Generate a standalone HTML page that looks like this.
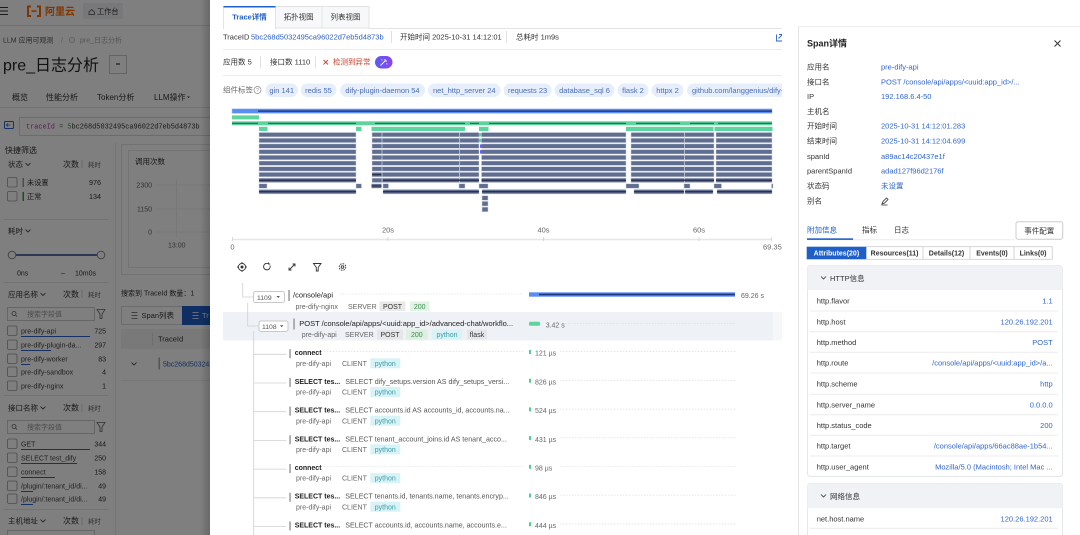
<!DOCTYPE html>
<html><head><meta charset="utf-8">
<style>
html,body{margin:0;padding:0;background:#fff;}
body{width:1080px;height:535px;overflow:hidden;}
svg{display:block;}
text{font-family:"Liberation Sans","Noto Sans CJK SC",sans-serif;}
.m{font-family:"Liberation Mono","Noto Sans CJK SC",monospace;}
</style></head><body>
<svg width="1080" height="535" viewBox="0 0 1080 535" xmlns="http://www.w3.org/2000/svg" xmlns:xlink="http://www.w3.org/1999/xlink">
<defs>
<clipPath id="mid"><rect x="210" y="0" width="572" height="535"/></clipPath>
<clipPath id="left"><rect x="0" y="0" width="210" height="535"/></clipPath>
<linearGradient id="sh" x1="0" x2="1" y1="0" y2="0"><stop offset="0" stop-color="#000" stop-opacity="0"/><stop offset="1" stop-color="#000" stop-opacity="0.18"/></linearGradient>
<linearGradient id="pp" x1="0" x2="1" y1="0" y2="0"><stop offset="0" stop-color="#5b5cf0"/><stop offset="1" stop-color="#8a45e8"/></linearGradient>
<g id="sr" fill="#5f6d90" stroke="#cdd2dc" stroke-width="0.5">
<rect x="259" y="0" width="97" height="4.4"/>
<rect x="372" y="0" width="107" height="4.4"/>
<rect x="481.5" y="0" width="144.5" height="4.4"/>
<rect x="631" y="0" width="83" height="4.4"/>
<rect x="716" y="0" width="56" height="4.4"/>
</g>
</defs>

<!-- ================= LEFT (dimmed page) ================= -->
<g clip-path="url(#left)">
<rect x="0" y="0" width="210" height="535" fill="#fff"/>
<line x1="0" y1="25.5" x2="210" y2="25.5" stroke="#e3e3e3"/>
<path d="M0 7.5h8M0 11h8M0 14.5h8" stroke="#333" stroke-width="1.1"/>
<path d="M31 6.5h-3v9.5h3M37 6.5h3v9.5h-3" stroke="#ff6a00" stroke-width="2" fill="none"/>
<rect x="31.5" y="10.3" width="5" height="1.6" fill="#ff6a00"/>
<text x="45" y="15" font-size="10" font-weight="bold" fill="#ff6a00">阿里云</text>
<rect x="83" y="3" width="40" height="16" rx="2" fill="#eef0f3"/>
<path d="M89 12l2.7-2.5 2.7 2.5v2.5h-5.4z" fill="none" stroke="#444" stroke-width="0.8"/>
<text x="97" y="14" font-size="7.2" fill="#333">工作台</text>
<text x="3" y="42.5" font-size="7" fill="#555">LLM 应用可观测</text>
<text x="61" y="42.5" font-size="7" fill="#bbb">/</text>
<circle cx="72" cy="40" r="2.6" fill="none" stroke="#aaa" stroke-width="0.7"/>
<text x="80" y="42.5" font-size="7" fill="#aaa">pre_日志分析</text>
<text x="3" y="70.5" font-size="16" fill="#222">pre_日志分析</text>
<rect x="109.5" y="55.5" width="17" height="18" fill="#fff" stroke="#c8c8c8"/>
<path d="M116 64h4" stroke="#333" stroke-width="1.2"/>
<text x="12" y="100" font-size="8" fill="#333">概览</text>
<text x="46" y="100" font-size="8" fill="#333">性能分析</text>
<text x="97" y="100" font-size="8" fill="#333">Token分析</text>
<text x="154" y="100" font-size="8" fill="#333">LLM操作</text>
<path d="M187 96.5l1.5 1.5 1.5-1.5z" fill="#333"/>
<line x1="0" y1="107.5" x2="210" y2="107.5" stroke="#e5e5e5"/>
<rect x="4.5" y="121.5" width="9" height="7" rx="1" fill="none" stroke="#2b63d0" stroke-width="1"/>
<path d="M6.5 125h4M8 123.5l-1.5 1.5 1.5 1.5" stroke="#2b63d0" stroke-width="0.8" fill="none"/>
<rect x="19.5" y="117.5" width="200" height="18" fill="#fff" stroke="#d9d9d9"/>
<text x="26" y="128.6" font-size="6.9" class="m"><tspan fill="#b23aa6">traceId</tspan><tspan fill="#666"> = </tspan><tspan fill="#2a9d4a">5</tspan><tspan fill="#333">bc268d5032495ca96022d7eb5d4873b</tspan></text>
<text x="5" y="153" font-size="8" fill="#333">快捷筛选</text>

<g font-size="7.5" fill="#333">
<text x="8" y="167">状态</text>
<text x="63" y="167" font-size="8">次数</text>
<text x="88" y="167" font-size="6.5" fill="#666">耗时</text>
<text x="8" y="233.5">耗时</text>
<text x="8" y="297">应用名称</text>
<text x="63" y="297" font-size="8">次数</text>
<text x="88" y="297" font-size="6.5" fill="#666">耗时</text>
<text x="8" y="410.5">接口名称</text>
<text x="63" y="410.5" font-size="8">次数</text>
<text x="88" y="410.5" font-size="6.5" fill="#666">耗时</text>
<text x="8" y="523.5">主机地址</text>
<text x="63" y="523.5" font-size="8">次数</text>
<text x="88" y="523.5" font-size="6.5" fill="#666">耗时</text>
</g>
<g stroke="#ccc" stroke-width="0.8"><path d="M82 160v8M82 290v8M82 404v8M82 517v8"/></g>
<g stroke="#333" stroke-width="0.8" fill="none">
<path d="M25.5 163l2.5 2.5 2.5-2.5"/><path d="M25.5 229.5l2.5 2.5 2.5-2.5"/>
<path d="M40.5 293l2.5 2.5 2.5-2.5"/><path d="M40.5 406.5l2.5 2.5 2.5-2.5"/><path d="M40.5 519.5l2.5 2.5 2.5-2.5"/>
</g>
<g fill="#fff" stroke="#999" stroke-width="0.8">
<rect x="7.5" y="177.5" width="9.5" height="9.5" rx="1.5"/>
<rect x="7.5" y="191.5" width="9.5" height="9.5" rx="1.5"/>
</g>
<rect x="22.5" y="178" width="1.5" height="9" fill="#999"/>
<rect x="22.5" y="192" width="1.5" height="9" fill="#2aa052"/>
<g font-size="7.2" fill="#333">
<text x="27" y="184.8">未设置</text><text x="101" y="184.8" text-anchor="end">976</text>
<text x="27" y="198.8">正常</text><text x="101" y="198.8" text-anchor="end">134</text>
</g>
<g stroke="#e6e6e6"><path d="M4 219.5h104M4 282.5h104M4 395.5h104M4 509.5h104"/></g>
<line x1="12" y1="255" x2="101" y2="255" stroke="#1d3f8f" stroke-width="1.5"/>
<circle cx="12" cy="255" r="3.8" fill="#fff" stroke="#888"/>
<circle cx="101" cy="255" r="3.8" fill="#fff" stroke="#888"/>
<g font-size="7" fill="#333"><text x="17" y="275.5">0ns</text><text x="61" y="275.5">–</text><text x="75" y="275.5">10m0s</text></g>

<g fill="#fff" stroke="#ccc"><rect x="7.5" y="307.5" width="87" height="13"/><rect x="7.5" y="420.5" width="87" height="13"/><rect x="7.5" y="530.5" width="87" height="13"/></g>
<g stroke="#666" stroke-width="0.8" fill="none">
<circle cx="14" cy="313.5" r="2"/><path d="M15.5 315l1.5 1.5"/>
<circle cx="14" cy="426.5" r="2"/><path d="M15.5 428l1.5 1.5"/>
<path d="M97 309.5h8l-3 4.5v4.5h-2v-4.5z"/><path d="M97 422.5h8l-3 4.5v4.5h-2v-4.5z"/>
</g>
<g font-size="7" fill="#999"><text x="27" y="316.6">搜索字段值</text><text x="27" y="429.6">搜索字段值</text></g>

<g fill="#fff" stroke="#999" stroke-width="0.8">
<rect x="7.5" y="326" width="9.5" height="9.5" rx="1.5"/><rect x="7.5" y="340" width="9.5" height="9.5" rx="1.5"/><rect x="7.5" y="354" width="9.5" height="9.5" rx="1.5"/><rect x="7.5" y="367" width="9.5" height="9.5" rx="1.5"/><rect x="7.5" y="381" width="9.5" height="9.5" rx="1.5"/>
<rect x="7.5" y="439" width="9.5" height="9.5" rx="1.5"/><rect x="7.5" y="453" width="9.5" height="9.5" rx="1.5"/><rect x="7.5" y="467" width="9.5" height="9.5" rx="1.5"/><rect x="7.5" y="481" width="9.5" height="9.5" rx="1.5"/><rect x="7.5" y="494" width="9.5" height="9.5" rx="1.5"/>
</g>
<g font-size="7" fill="#444">
<text x="21" y="333.6">pre-dify-api</text><text x="21" y="347.6">pre-dify-plugin-da...</text><text x="21" y="361.6">pre-dify-worker</text><text x="21" y="374.6">pre-dify-sandbox</text><text x="21" y="388.6">pre-dify-nginx</text>
<text x="21" y="446.6">GET</text><text x="21" y="460.6">SELECT test_dify</text><text x="21" y="474.6">connect</text><text x="21" y="488.6">/plugin/:tenant_id/di...</text><text x="21" y="501.6">/plugin/:tenant_id/di...</text>
</g>
<g font-size="7" fill="#333" text-anchor="end">
<text x="106" y="333.6">725</text><text x="106" y="347.6">297</text><text x="106" y="361.6">83</text><text x="106" y="374.6">4</text><text x="106" y="388.6">1</text>
<text x="106" y="446.6">344</text><text x="106" y="460.6">250</text><text x="106" y="474.6">158</text><text x="106" y="488.6">49</text><text x="106" y="501.6">49</text>
</g>
<g fill="#2d62c9">
<rect x="21" y="336" width="69" height="1"/><rect x="21" y="350" width="30" height="1"/><rect x="21" y="364" width="9" height="1"/>
<rect x="21" y="449" width="69" height="1"/><rect x="21" y="463" width="56" height="1"/><rect x="21" y="477" width="34" height="1"/><rect x="21" y="491" width="12" height="1"/><rect x="21" y="504" width="12" height="1"/>
</g>

<line x1="115.5" y1="143" x2="115.5" y2="535" stroke="#e8e8e8"/>
<rect x="121.5" y="144.5" width="100" height="130" fill="#fff" stroke="#e5e5e5"/>
<rect x="128.5" y="150.5" width="90" height="117" fill="#fff" stroke="#e8e8e8"/>
<text x="135" y="164" font-size="7.5" fill="#333">调用次数</text>
<g font-size="7" fill="#666" text-anchor="end"><text x="152" y="187.5">2300</text><text x="152" y="211.5">1150</text><text x="152" y="234.5">0</text></g>
<line x1="176.5" y1="180" x2="176.5" y2="237" stroke="#eee"/>
<g stroke="#f0f0f0"><path d="M156 185h60M156 209h60M156 232h60"/></g>
<text x="168" y="247.5" font-size="7" fill="#666">13:00</text>
<text x="121" y="295.5" font-size="7" fill="#333">搜索到 TraceId 数量：1</text>
<rect x="121.5" y="306.5" width="61" height="18" fill="#fff" stroke="#d9d9d9"/>
<path d="M131.5 312.5h6M131.5 315.5h6M131.5 318.5h6" stroke="#555" stroke-width="0.8"/>
<text x="141.5" y="318" font-size="7.5" fill="#333">Span列表</text>
<rect x="182" y="306" width="40" height="19" fill="#1f5fc8"/>
<path d="M192.5 312.5h6M192.5 315.5h6M192.5 318.5h6" stroke="#fff" stroke-width="0.8"/>
<text x="202" y="318" font-size="7.5" fill="#fff">Tr</text>
<rect x="121" y="329" width="100" height="20" fill="#f2f3f5"/>
<line x1="152.5" y1="333" x2="152.5" y2="345" stroke="#ddd"/>
<text x="158" y="341.5" font-size="7.5" fill="#333">TraceId</text>
<path d="M131.5 362.5l2.5 2.5 2.5-2.5" stroke="#333" stroke-width="0.8" fill="none"/>
<rect x="158.5" y="357.5" width="1.5" height="12" fill="#aaa"/>
<text x="163" y="366.5" font-size="7" fill="#2b5fc8">5bc268d5032495ca96022</text>
<line x1="121" y1="380.5" x2="210" y2="380.5" stroke="#eee"/>
</g>
<rect x="0" y="0" width="210" height="535" fill="#000" opacity="0.5"/>
<rect x="200" y="0" width="10" height="535" fill="url(#sh)"/>

<!-- ================= DRAWER ================= -->
<rect x="210" y="0" width="870" height="535" fill="#fff"/>

<g clip-path="url(#mid)">
<rect x="275.5" y="6.5" width="46.5" height="21.5" fill="#f7f8fa" stroke="#e3e3e3"/>
<rect x="322" y="6.5" width="47" height="21.5" fill="#f7f8fa" stroke="#e3e3e3"/>
<rect x="223.5" y="6.5" width="52" height="22" fill="#fff" stroke="#e3e3e3"/>
<rect x="223.5" y="6" width="52" height="1.5" fill="#1f5fc8"/>
<rect x="224" y="27.5" width="51" height="2" fill="#fff"/>
<line x1="369" y1="28.5" x2="783" y2="28.5" stroke="#e3e3e3"/>
<text x="249.5" y="19.6" font-size="7.5" font-weight="bold" fill="#1f5fc8" text-anchor="middle">Trace详情</text>
<text x="298.7" y="19.6" font-size="7.5" fill="#333" text-anchor="middle">拓扑视图</text>
<text x="345.5" y="19.6" font-size="7.5" fill="#333" text-anchor="middle">列表视图</text>

<g font-size="7.5" fill="#333">
<text x="223" y="39.7">TraceID</text>
<text x="251" y="39.7" fill="#2b5fc8">5bc268d5032495ca96022d7eb5d4873b</text>
<text x="400" y="39.7">开始时间 2025-10-31 14:12:01</text>
<text x="516" y="39.7">总耗时 1m9s</text>
<text x="223" y="64.7">应用数 5</text>
<text x="270" y="64.7">接口数 1110</text>
<text x="333" y="64.7" fill="#d0402b">检测到异常</text>
<text x="223" y="92.7" fill="#666">组件标签</text>
</g>
<g stroke="#e0e0e0"><path d="M391.5 31v12M506.5 31v12M260.5 56v12M315.5 56v12"/></g>
<path d="M323.5 60l4.5 4.5M328 60l-4.5 4.5" stroke="#d0402b" stroke-width="0.9"/>
<rect x="375" y="56" width="17.5" height="12.5" rx="6.2" fill="url(#pp)"/>
<path d="M380.5 65.5l5-5M385 59v1.5M387 61h-1.5M381.5 59.5l.8.8M386.5 63.5l.8.8" stroke="#fff" stroke-width="0.9"/>
<path d="M776.5 34.5v6.5h6.5v-2.5M779 34.5h3.5v3.5M782.5 34.5l-4 4" stroke="#2b5fc8" stroke-width="0.9" fill="none"/>
<line x1="223" y1="49.5" x2="783" y2="49.5" stroke="#ececec"/>
<line x1="223" y1="75.5" x2="783" y2="75.5" stroke="#ececec"/>
<circle cx="257.5" cy="90" r="3.5" fill="none" stroke="#888" stroke-width="0.7"/>
<text x="257.5" y="92" font-size="5" fill="#888" text-anchor="middle">?</text>

<g fill="#e6eefc">
<rect x="265.5" y="83.5" width="32.5" height="13.5" rx="6.7"/>
<rect x="300.6" y="83.5" width="35.8" height="13.5" rx="6.7"/>
<rect x="340" y="83.5" width="85" height="13.5" rx="6.7"/>
<rect x="428" y="83.5" width="72.6" height="13.5" rx="6.7"/>
<rect x="503.6" y="83.5" width="48" height="13.5" rx="6.7"/>
<rect x="554.5" y="83.5" width="60" height="13.5" rx="6.7"/>
<rect x="617.5" y="83.5" width="31" height="13.5" rx="6.7"/>
<rect x="651.5" y="83.5" width="32" height="13.5" rx="6.7"/>
<rect x="687" y="83.5" width="110" height="13.5" rx="6.7"/>
</g>
<g font-size="7.5" fill="#4a6db5" text-anchor="middle">
<text x="281.7" y="92.8">gin 141</text>
<text x="318.5" y="92.8">redis 55</text>
<text x="382.5" y="92.8">dify-plugin-daemon 54</text>
<text x="464.3" y="92.8">net_http_server 24</text>
<text x="527.6" y="92.8">requests 23</text>
<text x="584.5" y="92.8">database_sql 6</text>
<text x="633" y="92.8">flask 2</text>
<text x="667.5" y="92.8">httpx 2</text>
</g>
<text x="692" y="92.8" font-size="7.5" fill="#4a6db5">github.com/langgenius/dify-plugin</text>

<rect x="232" y="108.8" width="540" height="4.6" fill="#5a8ef2" stroke="#a9c3f7" stroke-width="0.5"/>
<rect x="258" y="110.4" width="514" height="1.4" fill="#1e347f"/>
<rect x="232" y="115.4" width="27" height="4" fill="#5dd39e"/>
<rect x="232" y="121.3" width="540" height="4" fill="#5dd39e"/>
<g fill="#2b5e50">
<rect x="232" y="122.8" width="26" height="1.1"/><rect x="268" y="122.8" width="88" height="1.1"/><rect x="375" y="122.8" width="90" height="1.1"/><rect x="470" y="122.8" width="9" height="1.1"/><rect x="489" y="122.8" width="137" height="1.1"/><rect x="636" y="122.8" width="44" height="1.1"/><rect x="690" y="122.8" width="24" height="1.1"/><rect x="718" y="122.8" width="54" height="1.1"/>
</g>
<g fill="#5dd39e">
<rect x="259" y="126.8" width="8.5" height="4.2"/><rect x="356" y="126.8" width="5.5" height="4.2"/><rect x="371.5" y="126.8" width="93.5" height="4.2"/><rect x="479" y="126.8" width="9.5" height="4.2"/><rect x="626" y="126.8" width="87.5" height="4.2"/><rect x="714.5" y="126.8" width="58" height="4.2"/>
</g>
<use xlink:href="#sr" href="#sr" y="132.5"/>
<use xlink:href="#sr" href="#sr" y="138.2"/>
<use xlink:href="#sr" href="#sr" y="143.9"/>
<use xlink:href="#sr" href="#sr" y="149.6"/>
<use xlink:href="#sr" href="#sr" y="155.3"/>
<use xlink:href="#sr" href="#sr" y="161"/>
<use xlink:href="#sr" href="#sr" y="166.7"/>
<use xlink:href="#sr" href="#sr" y="172.4"/>
<use xlink:href="#sr" href="#sr" y="178.1"/>
<g stroke="#d3d8e2" stroke-width="0.7"><path d="M382 132v51M459.5 132v51M684.5 132v51"/></g>
<rect x="479" y="133" width="2.5" height="3.5" fill="#5dd39e"/><rect x="479" y="138.7" width="2.5" height="3.5" fill="#5dd39e"/>
<rect x="480" y="144.4" width="2" height="3.5" fill="#6a5cff"/><rect x="480" y="150.1" width="2" height="3.5" fill="#6a5cff"/>
<g fill="#2a3350">
<rect x="372" y="173.9" width="9.5" height="1.4"/>
<rect x="259" y="179.6" width="97" height="1.4"/><rect x="383" y="179.6" width="96" height="1.4"/><rect x="481.5" y="179.6" width="144.5" height="1.4"/><rect x="631" y="179.6" width="83" height="1.4"/><rect x="716" y="179.6" width="56" height="1.4"/>
</g>
<g fill="#5f6d90" stroke="#cdd2dc" stroke-width="0.5">
<rect x="259" y="183.8" width="8" height="4.4"/><rect x="356" y="183.8" width="5.5" height="4.4"/><rect x="371.5" y="183.8" width="10" height="4.4"/><rect x="383" y="183.8" width="5.5" height="4.4"/><rect x="459" y="183.8" width="6" height="4.4"/><rect x="479" y="183.8" width="9" height="4.4"/><rect x="626" y="183.8" width="13" height="4.4"/><rect x="684" y="183.8" width="6" height="4.4"/><rect x="714" y="183.8" width="7.5" height="4.4"/><rect x="771.5" y="183.8" width="1.5" height="4.4"/>
<rect x="259" y="189.5" width="97" height="4.4"/><rect x="383" y="189.5" width="96" height="4.4"/><rect x="482" y="189.5" width="144" height="4.4"/><rect x="634" y="189.5" width="50" height="4.4"/><rect x="685" y="189.5" width="28" height="4.4"/><rect x="717" y="189.5" width="55" height="4.4"/>
<rect x="482" y="195.7" width="6" height="4.6"/><rect x="482" y="201.4" width="6" height="4.6"/><rect x="482" y="207.1" width="6" height="4.6"/>
</g>
<g fill="#2a3350">
<rect x="371.5" y="185.3" width="10" height="1.3"/>
<rect x="259" y="191" width="97" height="1.4"/><rect x="383" y="191" width="96" height="1.4"/><rect x="482" y="191" width="144" height="1.4"/><rect x="634" y="191" width="50" height="1.4"/><rect x="685" y="191" width="28" height="1.4"/><rect x="717" y="191" width="55" height="1.4"/>
</g>

<g font-size="7.5" fill="#666" text-anchor="middle">
<text x="388" y="232.6">20s</text><text x="543.5" y="232.6">40s</text><text x="699" y="232.6">60s</text>
<text x="232.5" y="249.6">0</text>
</g>
<text x="763" y="249.6" font-size="7.5" fill="#666">69.35</text>
<line x1="232" y1="239.5" x2="772" y2="239.5" stroke="#e6e6e6" stroke-width="1.5"/>
<g stroke="#ccc" stroke-width="0.7"><path d="M232.3 237v4M388 237v4M543.5 237v4M699 237v4M771.7 237v4"/></g>

<g stroke="#333" stroke-width="0.9" fill="none">
<circle cx="242" cy="267" r="3.6"/><path d="M242 262v1.5M242 270.5v1.5M237 267h1.5M245.5 267h1.5"/>
<path d="M270 265.5a3.3 3.3 0 1 1 -1.2 -1.6"/><path d="M268.6 262.5v1.6h1.6"/>
<path d="M289 270l6-6M292.5 264h2.5v2.5M289 267.5v2.5h2.5"/>
<path d="M313.5 263.5h7.5l-2.8 4v3.5h-1.9v-3.5z"/>
<circle cx="342.5" cy="267" r="1.3"/><circle cx="342.5" cy="267" r="3.3" stroke-dasharray="1.6 1"/>
</g>
<circle cx="242" cy="267" r="1.5" fill="#333"/>

<g stroke="#d0d0d0" stroke-width="0.8" fill="none">
<path d="M242.7 283v14h10.3"/>
<path d="M247.7 303v23h10.3"/>
<path d="M253.7 331v204"/>
</g>
<rect x="253.5" y="291.5" width="31" height="11" rx="2" fill="#fff" stroke="#c8c8c8"/>
<text x="257" y="299.8" font-size="6.8" fill="#555">1109</text>
<path d="M276.5 296l1.7 2 1.7-2z" fill="#555"/>
<rect x="288.3" y="290" width="1.5" height="11" fill="#999"/>
<text x="293" y="297.6" font-size="7.5" fill="#222">/console/api</text>
<line x1="340" y1="294" x2="523" y2="294" stroke="#d8d8d8" stroke-width="0.6" stroke-dasharray="1.5 1.5"/>
<text x="295.5" y="308.8" font-size="7" fill="#666">pre-dify-nginx</text>
<text x="348" y="308.8" font-size="7" fill="#666">SERVER</text>
<rect x="379.5" y="301.5" width="26" height="9.5" fill="#e9e9e9"/>
<text x="392.5" y="308.8" font-size="7" fill="#333" text-anchor="middle">POST</text>
<rect x="410" y="301.5" width="19.5" height="9.5" fill="#e2f3e5"/>
<text x="419.7" y="308.8" font-size="7" fill="#3a8a4a" text-anchor="middle">200</text>
<rect x="529" y="292.3" width="206" height="4.4" fill="#5a8ef2"/>
<rect x="539" y="293.7" width="196" height="1.6" fill="#1e347f"/>
<text x="741" y="298" font-size="7" fill="#666">69.26 s</text>

<rect x="223" y="312" width="550" height="28.5" fill="#eef1f5"/>
<rect x="773" y="312" width="10" height="28.5" fill="#f6f7f9"/>
<path d="M247.7 312v14h10.3" stroke="#d0d0d0" stroke-width="0.8" fill="none"/>
<path d="M253.7 331v10" stroke="#d0d0d0" stroke-width="0.8"/>
<rect x="259" y="321" width="29" height="10.5" rx="2" fill="#fff" stroke="#c8c8c8"/>
<text x="262" y="329" font-size="6.8" fill="#555">1108</text>
<path d="M280 325.3l1.7 2 1.7-2z" fill="#555"/>
<rect x="293.3" y="318.5" width="1.5" height="11" fill="#999"/>
<text x="299.3" y="325.9" font-size="7.5" fill="#222">POST /console/api/apps/&lt;uuid:app_id&gt;/advanced-chat/workflo...</text>
<text x="301.7" y="336.9" font-size="7" fill="#666">pre-dify-api</text>
<text x="345" y="336.9" font-size="7" fill="#666">SERVER</text>
<rect x="377" y="329.5" width="26" height="10" fill="#e4e6e9"/>
<text x="390" y="336.9" font-size="7" fill="#333" text-anchor="middle">POST</text>
<rect x="406" y="329.5" width="21.7" height="10" fill="#dcefe0"/>
<text x="416.8" y="336.9" font-size="7" fill="#3a8a4a" text-anchor="middle">200</text>
<rect x="432" y="329.5" width="30" height="10" fill="#d8f3f6"/>
<text x="447" y="336.9" font-size="7" fill="#3c9aa8" text-anchor="middle">python</text>
<rect x="467" y="329.5" width="20" height="10" fill="#e4e6e9"/>
<text x="477" y="336.9" font-size="7" fill="#333" text-anchor="middle">flask</text>
<rect x="529" y="321.7" width="11" height="4" rx="1" fill="#5dd39e"/>
<line x1="562" y1="323.3" x2="736" y2="323.3" stroke="#d8d8d8" stroke-width="0.6" stroke-dasharray="1.5 1.5"/>
<text x="545.7" y="327.5" font-size="7" fill="#666">3.42 s</text>

<g transform="translate(0,352.7)">
<line x1="253.7" y1="1.6" x2="286.3" y2="1.6" stroke="#d0d0d0" stroke-width="0.8"/>
<rect x="289.3" y="-3.5" width="1.5" height="9" fill="#999"/>
<text x="294.7" y="2.5" font-size="7" font-weight="bold" fill="#222">connect</text>
<line x1="324" y1="-1" x2="523" y2="-1" stroke="#d8d8d8" stroke-width="0.6" stroke-dasharray="1.5 1.5"/>
<text x="296" y="13.2" font-size="7" fill="#666">pre-dify-api</text><text x="342" y="13.2" font-size="7" fill="#666">CLIENT</text>
<rect x="370.3" y="5.6" width="30" height="10" fill="#d8f3f6"/><text x="385.3" y="13.2" font-size="7" fill="#3c9aa8" text-anchor="middle">python</text>
<rect x="529" y="-2.7" width="2" height="4" fill="#4fcf94"/>
<line x1="560" y1="-1" x2="736" y2="-1" stroke="#d8d8d8" stroke-width="0.6" stroke-dasharray="1.5 1.5"/>
<text x="535" y="3" font-size="7" fill="#666">121 µs</text>
</g>
<g transform="translate(0,381.4)">
<line x1="253.7" y1="1.6" x2="286.3" y2="1.6" stroke="#d0d0d0" stroke-width="0.8"/>
<rect x="289.3" y="-3.5" width="1.5" height="9" fill="#999"/>
<text x="294.7" y="2.5" font-size="7" font-weight="bold" fill="#222">SELECT tes...</text>
<text x="345.3" y="2.5" font-size="7.1" fill="#555">SELECT dify_setups.version AS dify_setups_versi...</text>
<text x="296" y="13.2" font-size="7" fill="#666">pre-dify-api</text><text x="342" y="13.2" font-size="7" fill="#666">CLIENT</text>
<rect x="370.3" y="5.6" width="30" height="10" fill="#d8f3f6"/><text x="385.3" y="13.2" font-size="7" fill="#3c9aa8" text-anchor="middle">python</text>
<rect x="529" y="-2.7" width="2" height="4" fill="#4fcf94"/>
<line x1="560" y1="-1" x2="736" y2="-1" stroke="#d8d8d8" stroke-width="0.6" stroke-dasharray="1.5 1.5"/>
<text x="535" y="3" font-size="7" fill="#666">826 µs</text>
</g>
<g transform="translate(0,410.1)">
<line x1="253.7" y1="1.6" x2="286.3" y2="1.6" stroke="#d0d0d0" stroke-width="0.8"/>
<rect x="289.3" y="-3.5" width="1.5" height="9" fill="#999"/>
<text x="294.7" y="2.5" font-size="7" font-weight="bold" fill="#222">SELECT tes...</text>
<text x="345.3" y="2.5" font-size="7.1" fill="#555">SELECT accounts.id AS accounts_id, accounts.na...</text>
<text x="296" y="13.2" font-size="7" fill="#666">pre-dify-api</text><text x="342" y="13.2" font-size="7" fill="#666">CLIENT</text>
<rect x="370.3" y="5.6" width="30" height="10" fill="#d8f3f6"/><text x="385.3" y="13.2" font-size="7" fill="#3c9aa8" text-anchor="middle">python</text>
<rect x="529" y="-2.7" width="2" height="4" fill="#4fcf94"/>
<line x1="560" y1="-1" x2="736" y2="-1" stroke="#d8d8d8" stroke-width="0.6" stroke-dasharray="1.5 1.5"/>
<text x="535" y="3" font-size="7" fill="#666">524 µs</text>
</g>
<g transform="translate(0,438.8)">
<line x1="253.7" y1="1.6" x2="286.3" y2="1.6" stroke="#d0d0d0" stroke-width="0.8"/>
<rect x="289.3" y="-3.5" width="1.5" height="9" fill="#999"/>
<text x="294.7" y="2.5" font-size="7" font-weight="bold" fill="#222">SELECT tes...</text>
<text x="345.3" y="2.5" font-size="7.1" fill="#555">SELECT tenant_account_joins.id AS tenant_acco...</text>
<text x="296" y="13.2" font-size="7" fill="#666">pre-dify-api</text><text x="342" y="13.2" font-size="7" fill="#666">CLIENT</text>
<rect x="370.3" y="5.6" width="30" height="10" fill="#d8f3f6"/><text x="385.3" y="13.2" font-size="7" fill="#3c9aa8" text-anchor="middle">python</text>
<rect x="529" y="-2.7" width="2" height="4" fill="#4fcf94"/>
<line x1="560" y1="-1" x2="736" y2="-1" stroke="#d8d8d8" stroke-width="0.6" stroke-dasharray="1.5 1.5"/>
<text x="535" y="3" font-size="7" fill="#666">431 µs</text>
</g>
<g transform="translate(0,467.5)">
<line x1="253.7" y1="1.6" x2="286.3" y2="1.6" stroke="#d0d0d0" stroke-width="0.8"/>
<rect x="289.3" y="-3.5" width="1.5" height="9" fill="#999"/>
<text x="294.7" y="2.5" font-size="7" font-weight="bold" fill="#222">connect</text>
<line x1="324" y1="-1" x2="523" y2="-1" stroke="#d8d8d8" stroke-width="0.6" stroke-dasharray="1.5 1.5"/>
<text x="296" y="13.2" font-size="7" fill="#666">pre-dify-api</text><text x="342" y="13.2" font-size="7" fill="#666">CLIENT</text>
<rect x="370.3" y="5.6" width="30" height="10" fill="#d8f3f6"/><text x="385.3" y="13.2" font-size="7" fill="#3c9aa8" text-anchor="middle">python</text>
<rect x="529" y="-2.7" width="2" height="4" fill="#4fcf94"/>
<line x1="560" y1="-1" x2="736" y2="-1" stroke="#d8d8d8" stroke-width="0.6" stroke-dasharray="1.5 1.5"/>
<text x="535" y="3" font-size="7" fill="#666">98 µs</text>
</g>
<g transform="translate(0,496.2)">
<line x1="253.7" y1="1.6" x2="286.3" y2="1.6" stroke="#d0d0d0" stroke-width="0.8"/>
<rect x="289.3" y="-3.5" width="1.5" height="9" fill="#999"/>
<text x="294.7" y="2.5" font-size="7" font-weight="bold" fill="#222">SELECT tes...</text>
<text x="345.3" y="2.5" font-size="7.1" fill="#555">SELECT tenants.id, tenants.name, tenants.encryp...</text>
<text x="296" y="13.2" font-size="7" fill="#666">pre-dify-api</text><text x="342" y="13.2" font-size="7" fill="#666">CLIENT</text>
<rect x="370.3" y="5.6" width="30" height="10" fill="#d8f3f6"/><text x="385.3" y="13.2" font-size="7" fill="#3c9aa8" text-anchor="middle">python</text>
<rect x="529" y="-2.7" width="2" height="4" fill="#4fcf94"/>
<line x1="560" y1="-1" x2="736" y2="-1" stroke="#d8d8d8" stroke-width="0.6" stroke-dasharray="1.5 1.5"/>
<text x="535" y="3" font-size="7" fill="#666">846 µs</text>
</g>
<g transform="translate(0,524.9)">
<line x1="253.7" y1="1.6" x2="286.3" y2="1.6" stroke="#d0d0d0" stroke-width="0.8"/>
<rect x="289.3" y="-3.5" width="1.5" height="9" fill="#999"/>
<text x="294.7" y="2.5" font-size="7" font-weight="bold" fill="#222">SELECT tes...</text>
<text x="345.3" y="2.5" font-size="7.1" fill="#555">SELECT accounts.id, accounts.name, accounts.e...</text>
<rect x="529" y="-2.7" width="2" height="4" fill="#4fcf94"/>
<line x1="560" y1="-1" x2="736" y2="-1" stroke="#d8d8d8" stroke-width="0.6" stroke-dasharray="1.5 1.5"/>
<text x="535" y="3" font-size="7" fill="#666">444 µs</text>
</g>
</g>

<!-- ================= RIGHT PANEL ================= -->
<line x1="798.5" y1="27" x2="798.5" y2="535" stroke="#e3e3e3"/>
<line x1="798" y1="26.7" x2="1080" y2="26.7" stroke="#ececec"/>
<text x="807" y="46.5" font-size="9" font-weight="bold" fill="#222">Span详情</text>
<path d="M1054.5 40.5l6 6M1060.5 40.5l-6 6" stroke="#333" stroke-width="1"/>
<g font-size="7.5" fill="#333">
<text x="807" y="69.3">应用名</text>
<text x="807" y="84.3">接口名</text>
<text x="807" y="98.9">IP</text>
<text x="807" y="113.9">主机名</text>
<text x="807" y="128.6">开始时间</text>
<text x="807" y="143.6">结束时间</text>
<text x="807" y="158.9">spanId</text>
<text x="807" y="173.6">parentSpanId</text>
<text x="807" y="188.6">状态码</text>
<text x="807" y="203.6">别名</text>
</g>
<g font-size="7.5" fill="#2f66d0">
<text x="881" y="69.3">pre-dify-api</text>
<text x="881" y="84.3">POST /console/api/apps/&lt;uuid:app_id&gt;/...</text>
<text x="881" y="98.9">192.168.6.4-50</text>
<text x="881" y="128.6">2025-10-31 14:12:01.283</text>
<text x="881" y="143.6">2025-10-31 14:12:04.699</text>
<text x="881" y="158.9">a89ac14c20437e1f</text>
<text x="881" y="173.6">adad127f96d2176f</text>
<text x="881" y="188.6">未设置</text>
</g>
<path d="M882 204l1-2.5 3.5-3.5 1.5 1.5-3.5 3.5zM881.5 205h6" stroke="#333" stroke-width="0.8" fill="none"/>

<text x="807" y="232.5" font-size="7.5" fill="#1f5fc8">附加信息</text>
<text x="862" y="232.5" font-size="7.5" fill="#333">指标</text>
<text x="894" y="232.5" font-size="7.5" fill="#333">日志</text>
<line x1="807" y1="239.7" x2="1015" y2="239.7" stroke="#ececec"/>
<rect x="807" y="238.3" width="46" height="1.6" fill="#1f5fc8"/>
<rect x="1016" y="221.7" width="46.7" height="17.5" rx="2" fill="#fff" stroke="#ccc"/>
<text x="1039.3" y="233.3" font-size="7.5" fill="#333" text-anchor="middle">事件配置</text>

<rect x="866.2" y="246.7" width="186" height="12.6" fill="#fff" stroke="#ccc" stroke-width="0.8"/>
<g stroke="#ccc" stroke-width="0.8"><path d="M923 246.7v12.6M970 246.7v12.6M1014 246.7v12.6"/></g>
<rect x="806.7" y="246.7" width="59.5" height="12.6" fill="#1f5fc8"/>
<g font-size="7" font-weight="bold" text-anchor="middle">
<text x="836.4" y="255.5" fill="#fff">Attributes(20)</text>
<text x="894.6" y="255.5" fill="#333">Resources(11)</text>
<text x="946.5" y="255.5" fill="#333">Details(12)</text>
<text x="992" y="255.5" fill="#333">Events(0)</text>
<text x="1033" y="255.5" fill="#333">Links(0)</text>
</g>

<rect x="807.5" y="265.5" width="255" height="211" rx="3" fill="#fff" stroke="#e3e6ea"/>
<path d="M807.5 290V268.5a3 3 0 0 1 3-3h249a3 3 0 0 1 3 3V290z" fill="#f0f2f5"/>
<path d="M821 276.5l2.5 2.5 2.5-2.5" stroke="#333" stroke-width="0.8" fill="none"/>
<text x="830" y="280.8" font-size="7.5" fill="#333">HTTP信息</text>
<g stroke="#ececec"><path d="M810 311h248M810 331.7h248M810 352.3h248M810 373h248M810 394.3h248M810 414.7h248M810 435.3h248M810 456h248"/></g>
<g font-size="7.5" fill="#333">
<text x="816.7" y="303.3">http.flavor</text>
<text x="816.7" y="324.3">http.host</text>
<text x="816.7" y="344.9">http.method</text>
<text x="816.7" y="365.6">http.route</text>
<text x="816.7" y="386.6">http.scheme</text>
<text x="816.7" y="407.3">http.server_name</text>
<text x="816.7" y="427.9">http.status_code</text>
<text x="816.7" y="448.6">http.target</text>
<text x="816.7" y="469.6">http.user_agent</text>
</g>
<g font-size="7.5" fill="#2f66d0" text-anchor="end">
<text x="1052.7" y="303.3">1.1</text>
<text x="1052.7" y="324.3">120.26.192.201</text>
<text x="1052.7" y="344.9">POST</text>
<text x="1052.7" y="365.6">/console/api/apps/&lt;uuid:app_id&gt;/a...</text>
<text x="1052.7" y="386.6">http</text>
<text x="1052.7" y="407.3">0.0.0.0</text>
<text x="1052.7" y="427.9">200</text>
<text x="1052.7" y="448.6">/console/api/apps/66ac88ae-1b54...</text>
<text x="1052.7" y="469.6">Mozilla/5.0 (Macintosh; Intel Mac ...</text>
</g>
<rect x="807.5" y="483.5" width="255" height="60" rx="3" fill="#fff" stroke="#e3e6ea"/>
<path d="M807.5 508.3V486.5a3 3 0 0 1 3-3h249a3 3 0 0 1 3 3V508.3z" fill="#f0f2f5"/>
<path d="M821 494.5l2.5 2.5 2.5-2.5" stroke="#333" stroke-width="0.8" fill="none"/>
<text x="830" y="498.8" font-size="7.5" fill="#333">网络信息</text>
<g font-size="7.5"><text x="816.7" y="521.3" fill="#333">net.host.name</text><text x="1052.7" y="521.3" fill="#2f66d0" text-anchor="end">120.26.192.201</text></g>
<line x1="810" y1="528.3" x2="1058" y2="528.3" stroke="#ececec"/>
</svg>
</body></html>
